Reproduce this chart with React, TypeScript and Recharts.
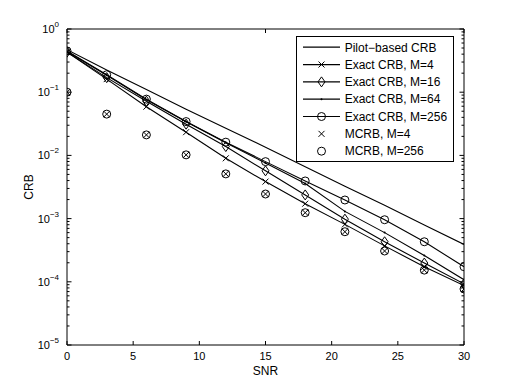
import React from 'react';
import { LineChart, Line, XAxis, YAxis, Legend } from 'recharts';

const snr = [0, 3, 6, 9, 12, 15, 18, 21, 24, 27, 30];
const pilotCRB = [0.47, 0.224, 0.110, 0.0537, 0.0269, 0.0135, 0.0066, 0.00324, 0.00162, 0.00079, 0.00039];
const exactM4 = [0.43, 0.161, 0.059, 0.0233, 0.009, 0.00385, 0.00172, 0.00081, 0.00037, 0.000173, 0.000087];
const exactM16 = [0.43, 0.17, 0.072, 0.0312, 0.0138, 0.0057, 0.00237, 0.00098, 0.00043, 0.000198, 0.000093];
const exactM64 = [0.44, 0.185, 0.076, 0.034, 0.0158, 0.0076, 0.0036, 0.0013, 0.0006, 0.00026, 0.000108];
const exactM256 = [0.45, 0.189, 0.0777, 0.0343, 0.0162, 0.00797, 0.00394, 0.00197, 0.00096, 0.00043, 0.000173];
const mcrbM4 = [0.1, 0.045, 0.0211, 0.0102, 0.0051, 0.00245, 0.00124, 0.00062, 0.000307, 0.000153, 0.000077];
const mcrbM256 = [0.1, 0.045, 0.0211, 0.0102, 0.0051, 0.00245, 0.00124, 0.00062, 0.000307, 0.000153, 0.000077];

const xTicks = [0, 5, 10, 15, 20, 25, 30];
const yTicks: number[] = [];
[-5, -4, -3, -2, -1].forEach((e) => {
  for (let m = 1; m <= 9; m++) yTicks.push(m * Math.pow(10, e));
});
yTicks.push(1);

const legendNames = [
  'Pilot\u2212based CRB',
  'Exact CRB, M=4',
  'Exact CRB, M=16',
  'Exact CRB, M=64',
  'Exact CRB, M=256',
  'MCRB, M=4',
  'MCRB, M=256',
];

const data = snr.map((s, i) => ({
  snr: s,
  pilot: pilotCRB[i],
  e4: exactM4[i],
  e16: exactM16[i],
  e64: exactM64[i],
  e256: exactM256[i],
  m4: mcrbM4[i],
  m256: mcrbM256[i],
}));

const FONT = '"Liberation Sans", Arial, Helvetica, sans-serif';

const isMajor = (v: number) => {
  const l = Math.log10(v);
  return Math.abs(l - Math.round(l)) < 1e-6;
};

const crossPath = (cx: number, cy: number, r: number) =>
  `M${cx - r},${cy - r}L${cx + r},${cy + r}M${cx - r},${cy + r}L${cx + r},${cy - r}`;

const markerEl = (kind: string, cx: number, cy: number, key?: string) => {
  if (kind === 'x') return <path key={key} d={crossPath(cx, cy, 3)} stroke="#000" strokeWidth={1} fill="none" />;
  if (kind === 'd')
    return (
      <path
        key={key}
        d={`M${cx},${cy - 5}L${cx + 3.5},${cy}L${cx},${cy + 5}L${cx - 3.5},${cy}Z`}
        stroke="#000"
        strokeWidth={1}
        fill="none"
      />
    );
  if (kind === 'p') return <circle key={key} cx={cx} cy={cy} r={1} fill="#000" />;
  if (kind === 'o') return <circle key={key} cx={cx} cy={cy} r={4} stroke="#000" strokeWidth={1} fill="none" />;
  return <g key={key} />;
};

const dotFn = (kind: string) => (props: any) => {
  const { cx, cy, index } = props;
  if (cx == null || cy == null) return <g key={`${kind}-${index}`} />;
  return markerEl(kind, cx, cy, `${kind}-${index}`);
};

const BottomTick = (props: any) => {
  const { x, y, payload } = props;
  return (
    <g>
      <line x1={x} y1={y} x2={x} y2={y - 4} stroke="#000" />
      <text x={x} y={y + 15} textAnchor="middle" fontSize={11} fontFamily={FONT} fill="#000">
        {payload.value}
      </text>
    </g>
  );
};

const TopTick = (props: any) => {
  const { x, y } = props;
  return <line x1={x} y1={y} x2={x} y2={y + 4} stroke="#000" />;
};

const LeftTick = (props: any) => {
  const { x, y, payload } = props;
  const v = payload.value as number;
  const major = isMajor(v);
  const exp = Math.round(Math.log10(v));
  return (
    <g>
      <line x1={x} y1={y} x2={x + (major ? 4.5 : 2.5)} y2={y} stroke="#000" />
      {major && (
        <text x={x - 8} y={y + 4} textAnchor="end" fontSize={11} fontFamily={FONT} fill="#000">
          10
          <tspan dy={-6} fontSize={8}>
            {exp < 0 ? `\u2212${-exp}` : `${exp}`}
          </tspan>
        </text>
      )}
    </g>
  );
};

const RightTick = (props: any) => {
  const { x, y, payload } = props;
  const major = isMajor(payload.value as number);
  return <line x1={x} y1={y} x2={x - (major ? 4.5 : 2.5)} y2={y} stroke="#000" />;
};

const legendMarkers = ['', 'x', 'd', 'p', 'o', 'x', 'o'];
const legendLines = [true, true, true, true, true, false, false];

const LegendBox = () => (
  <svg width={158} height={127} style={{ display: 'block' }}>
    <rect x={0.5} y={0.5} width={157} height={125} fill="#fff" stroke="#000" />
    {legendNames.map((name, i) => {
      const y = 11.2 + i * 17.33;
      return (
        <g key={name}>
          {legendLines[i] && <line x1={7} y1={y} x2={44} y2={y} stroke="#000" strokeWidth={1.2} />}
          {markerEl(legendMarkers[i], 25.5, y)}
          <text x={48.7} y={y + 4.3} fontSize={12} fontFamily={FONT} fill="#000">
            {name}
          </text>
        </g>
      );
    })}
  </svg>
);

export default function App() {
  return (
    <div style={{ position: 'absolute', left: 0, top: 0, width: 512, height: 388, background: '#fff' }}>
      <LineChart
        width={512}
        height={388}
        data={data}
        margin={{ top: 24, right: 43, bottom: 13, left: 7 }}
        style={{ fontFamily: FONT }}
      >
        <XAxis
          xAxisId="b"
          dataKey="snr"
          type="number"
          domain={[0, 30]}
          ticks={xTicks}
          allowDataOverflow
          height={30}
          tickSize={0}
          tickMargin={0}
          tickLine={false}
          tick={<BottomTick />}
          axisLine={{ stroke: '#000' }}
          interval={0}
          label={(p: any) => {
            const vb = p.viewBox || {};
            return (
              <text x={(vb.x ?? 67) + (vb.width ?? 397) / 2} y={375} textAnchor="middle" fontSize={12} fontFamily={FONT} fill="#000">
                SNR
              </text>
            );
          }}
        />
        <XAxis
          xAxisId="t"
          orientation="top"
          type="number"
          domain={[0, 30]}
          ticks={xTicks}
          allowDataOverflow
          height={5}
          tickSize={0}
          tickMargin={0}
          tickLine={false}
          tick={<TopTick />}
          axisLine={{ stroke: '#000' }}
          interval={0}
        />
        <YAxis
          yAxisId="l"
          scale="log"
          type="number"
          domain={[1e-5, 1]}
          ticks={yTicks}
          allowDataOverflow
          width={60}
          tickSize={0}
          tickMargin={0}
          tickLine={false}
          tick={<LeftTick />}
          axisLine={{ stroke: '#000' }}
          interval={0}
          label={(p: any) => {
            const vb = p.viewBox || {};
            const cy = (vb.y ?? 29) + (vb.height ?? 316) / 2;
            return (
              <text x={33} y={cy} transform={`rotate(-90, 33, ${cy})`} textAnchor="middle" fontSize={12} fontFamily={FONT} fill="#000">
                CRB
              </text>
            );
          }}
        />
        <YAxis
          yAxisId="r"
          orientation="right"
          scale="log"
          type="number"
          domain={[1e-5, 1]}
          ticks={yTicks}
          allowDataOverflow
          width={5}
          tickSize={0}
          tickMargin={0}
          tickLine={false}
          tick={<RightTick />}
          axisLine={{ stroke: '#000' }}
          interval={0}
        />
        <Line xAxisId="b" yAxisId="l" dataKey="pilot" stroke="#000" strokeWidth={1.1} dot={false} isAnimationActive={false} />
        <Line xAxisId="b" yAxisId="l" dataKey="e4" stroke="#000" strokeWidth={1.1} dot={dotFn('x')} isAnimationActive={false} />
        <Line xAxisId="b" yAxisId="l" dataKey="e16" stroke="#000" strokeWidth={1.1} dot={dotFn('d')} isAnimationActive={false} />
        <Line xAxisId="b" yAxisId="l" dataKey="e64" stroke="#000" strokeWidth={1.1} dot={dotFn('p')} isAnimationActive={false} />
        <Line xAxisId="b" yAxisId="l" dataKey="e256" stroke="#000" strokeWidth={1.1} dot={dotFn('o')} isAnimationActive={false} />
        <Line xAxisId="b" yAxisId="l" dataKey="m4" stroke="none" dot={dotFn('x')} isAnimationActive={false} />
        <Line xAxisId="b" yAxisId="l" dataKey="m256" stroke="none" dot={dotFn('o')} isAnimationActive={false} />
        <Legend
          layout="vertical"
          align="center"
          verticalAlign="middle"
          content={() => <LegendBox />}
          wrapperStyle={{ position: 'absolute', left: 296, top: 36, width: 158, height: 127 }}
        />
      </LineChart>
    </div>
  );
}
